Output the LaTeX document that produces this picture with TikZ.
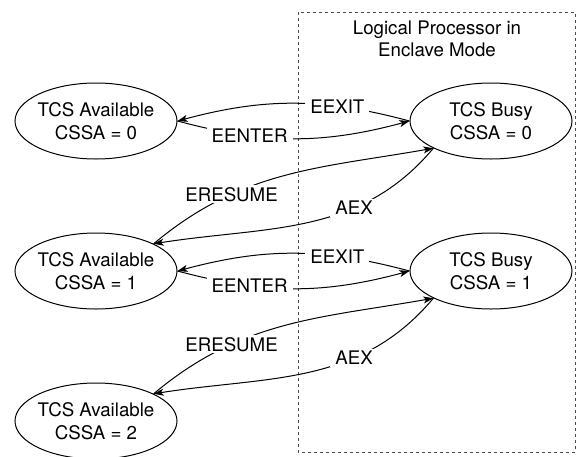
\documentclass[tikz,border=0pt]{standalone}
\usepackage{fontspec}
\setmainfont{TeX Gyre Heros}
\usetikzlibrary{shapes.geometric,arrows.meta}
\begin{document}
\begin{tikzpicture}[x=1pt, y=-1pt, line width=1pt,
  every node/.style={font=\fontsize{18.7}{22.5}\selectfont},
  tcs/.style={draw, ellipse, align=center, inner xsep=-3pt, inner ysep=0pt, minimum width=162, minimum height=76},
  op/.style={fill=white, inner xsep=5pt, inner ysep=2pt},
  >={Stealth[length=10pt,width=7pt,inset=2.5pt]}]
  \useasboundingbox (0,0) rectangle (576,456);
  \draw[dash pattern=on 3pt off 3pt, black!70] (298,12) rectangle (575,452);
  \node[align=center] (lp) at (437,39) {Logical Processor in\\Enclave Mode};
  % free TCS on the left, busy TCS inside the enclave on the right
  \node[tcs] (a0) at (96,121) {TCS Available\\CSSA = 0};
  \node[tcs] (b0) at (491,121) {TCS Busy\\CSSA = 0};
  \node[tcs] (a1) at (96,271) {TCS Available\\CSSA = 1};
  \node[tcs] (b1) at (491,271) {TCS Busy\\CSSA = 1};
  \node[tcs] (a2) at (96,421) {TCS Available\\CSSA = 2};
  \foreach \av/\bu/\nx in {a0/b0/a1, a1/b1/a2} {
    \draw[->] (\bu.west) to[bend right=15] node[op, pos=0.3] {EEXIT} (\av.east);
    \draw[->] (\av.east) to[bend right=15] node[op, pos=0.3] {EENTER} (\bu.west);
    \draw[->] (\nx.north east) to[out=40, in=190] node[op, pos=0.3] {ERESUME} (\bu.south west);
    \draw[->] (\bu.south west) to[out=230, in=9] node[op, pos=0.33] {AEX} (\nx.north east);
  }
\end{tikzpicture}
\end{document}
